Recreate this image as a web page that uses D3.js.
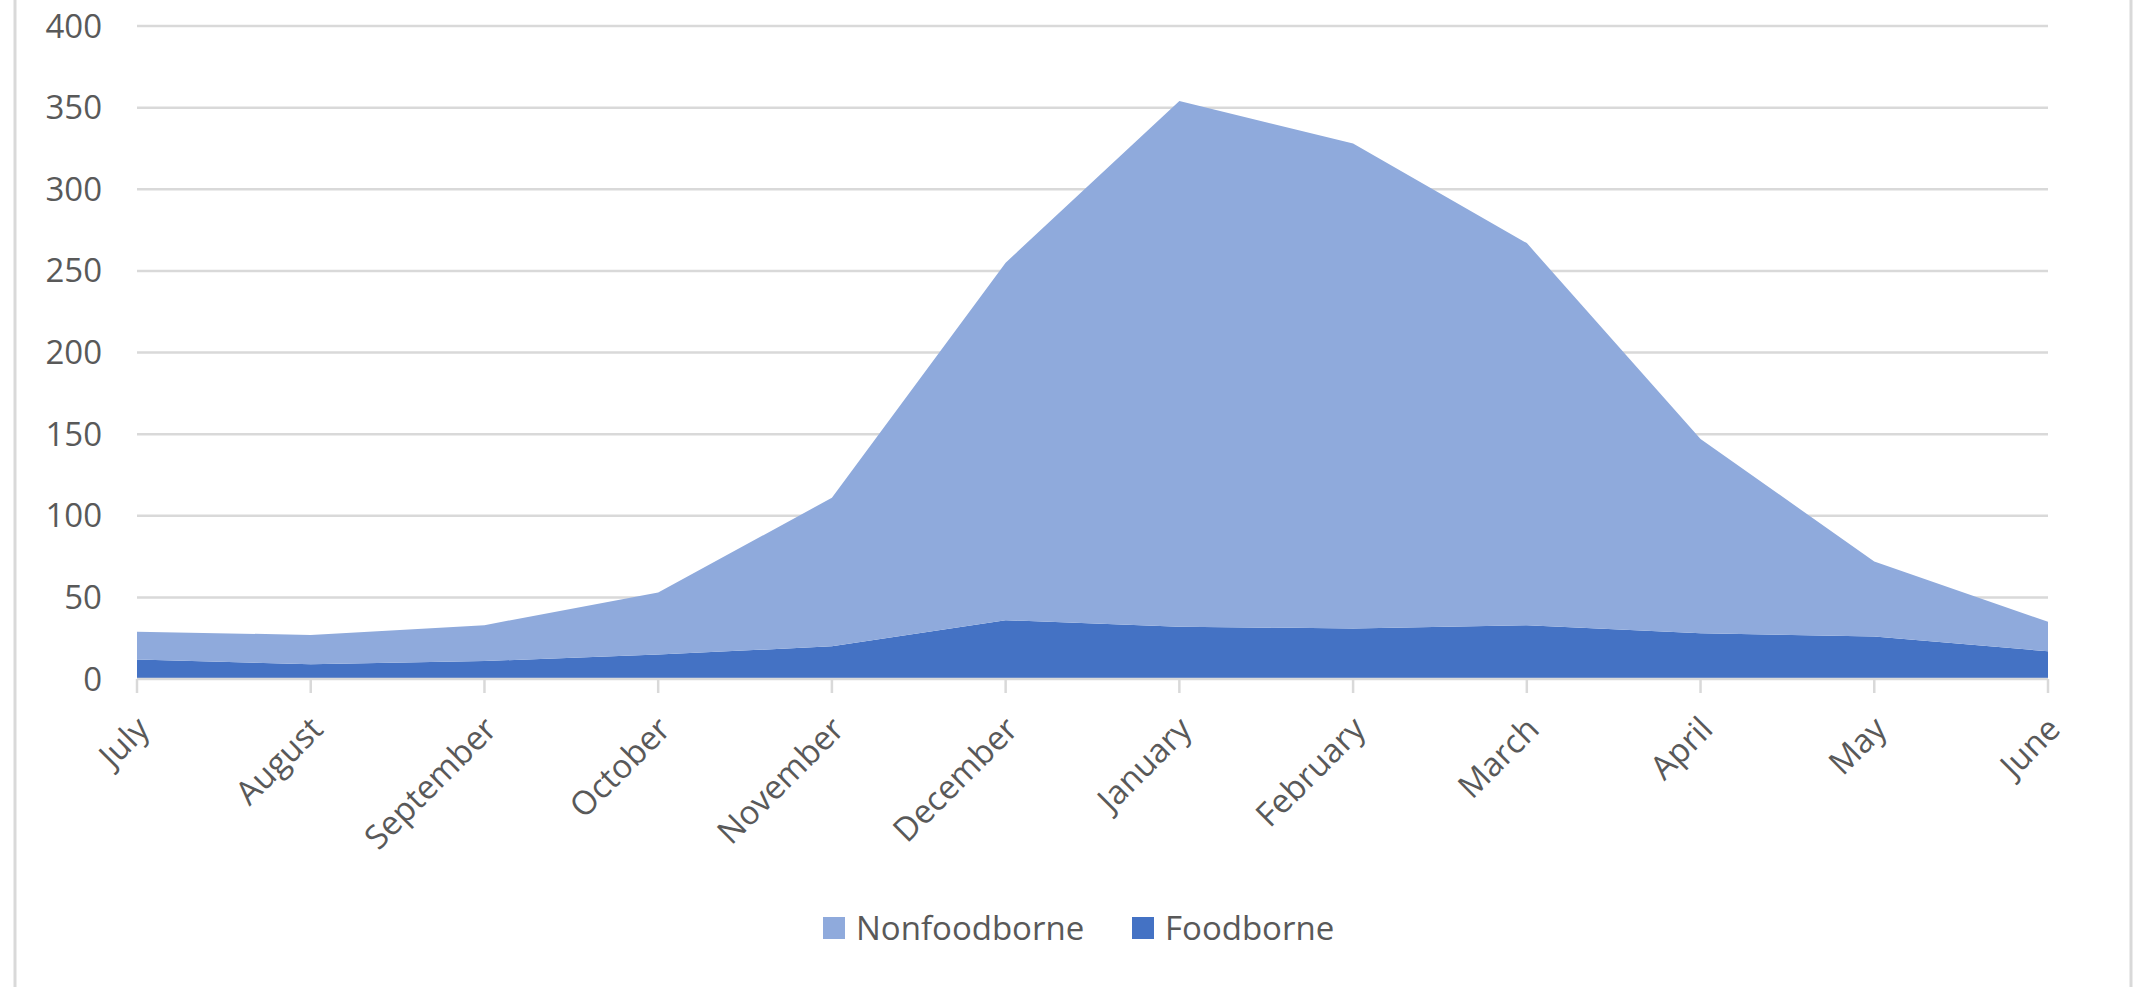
<!DOCTYPE html>
<html>
<head>
<meta charset="utf-8">
<script src="https://cdn.jsdelivr.net/npm/d3@7"></script>
<style>
  html, body { margin: 0; padding: 0; background: #fff; overflow: hidden; }
  svg { display: block; }
  text { font-family: "Open Sans", "Noto Sans", sans-serif; fill: #595959; }
</style>
</head>
<body>
<div id="chart"></div>
<script>
// months on the x axis
const months = ['July', 'August', 'September', 'October', 'November', 'December',
  'January', 'February', 'March', 'April', 'May', 'June'];
// series values (stacked: Foodborne at the bottom)
const foodborne = [12, 9, 11, 15, 20, 36, 32, 31, 33, 28, 26, 17];
const nonfoodborne = [17, 18, 22, 38, 91, 219, 322, 297, 234, 119, 46, 18];
const yTicks = [0, 50, 100, 150, 200, 250, 300, 350, 400];
const seriesNames = ['Nonfoodborne', 'Foodborne'];

const width = 2136;
const height = 987;
const margin = {top: 26, right: 88, bottom: 308, left: 137};
const innerWidth = width - margin.left - margin.right;
const innerHeight = height - margin.top - margin.bottom;
const colors = {Foodborne: '#4472c4', Nonfoodborne: '#8faadc'};

const svg = d3.select('#chart').append('svg')
  .attr('width', width)
  .attr('height', height);

// chart frame (only the side edges are visible)
svg.selectAll('line.frame')
  .data([15, 2131])
  .join('line')
  .attr('class', 'frame')
  .attr('x1', d => d).attr('x2', d => d)
  .attr('y1', 0).attr('y2', height)
  .attr('stroke', '#d9d9d9')
  .attr('stroke-width', 3);

const g = svg.append('g')
  .attr('transform', `translate(${margin.left},${margin.top})`);

const x = d3.scalePoint()
  .domain(months)
  .range([0, innerWidth]);

const y = d3.scaleLinear()
  .domain([0, 400])
  .range([innerHeight, 0]);

// gridlines
g.append('g')
  .selectAll('line')
  .data(yTicks.filter(d => d > 0))
  .join('line')
  .attr('x1', 0).attr('x2', innerWidth)
  .attr('y1', d => y(d)).attr('y2', d => y(d))
  .attr('stroke', '#d9d9d9')
  .attr('stroke-width', 2.5);

// stacked areas
const rows = months.map((m, i) => ({month: m, Foodborne: foodborne[i], Nonfoodborne: nonfoodborne[i]}));
const stack = d3.stack().keys(['Foodborne', 'Nonfoodborne']);
const layers = stack(rows);

const area = d3.area()
  .x(d => x(d.data.month))
  .y0(d => y(d[0]))
  .y1(d => y(d[1]));

g.selectAll('path.layer')
  .data(layers)
  .join('path')
  .attr('class', 'layer')
  .attr('fill', d => colors[d.key])
  .attr('d', area);

// y axis labels
g.append('g')
  .selectAll('text')
  .data(yTicks)
  .join('text')
  .attr('x', -35)
  .attr('y', d => y(d))
  .attr('dy', '0.35em')
  .attr('text-anchor', 'end')
  .attr('font-size', 33)
  .text(d => d);

// x axis line and ticks
const xAxis = g.append('g').attr('transform', `translate(0,${innerHeight})`);
xAxis.append('line')
  .attr('x1', 0).attr('x2', innerWidth)
  .attr('stroke', '#d9d9d9')
  .attr('stroke-width', 2.5);
xAxis.selectAll('line.tick')
  .data(months)
  .join('line')
  .attr('class', 'tick')
  .attr('x1', d => x(d)).attr('x2', d => x(d))
  .attr('y1', 0).attr('y2', 14)
  .attr('stroke', '#d9d9d9')
  .attr('stroke-width', 2.5);
xAxis.selectAll('text')
  .data(months)
  .join('text')
  .attr('transform', d => `translate(${x(d) + 6},${44}) rotate(-45)`)
  .attr('text-anchor', 'end')
  .attr('dy', '0.35em')
  .attr('font-size', 33)
  .text(d => d);

// legend
const legend = svg.append('g').attr('transform', 'translate(823,928)');
const legendX = [0, 309];
seriesNames.forEach((name, i) => {
  const item = legend.append('g').attr('transform', `translate(${legendX[i]},0)`);
  item.append('rect')
    .attr('x', 0).attr('y', -11)
    .attr('width', 22).attr('height', 22)
    .attr('fill', colors[name]);
  item.append('text')
    .attr('x', 33)
    .attr('dy', '0.35em')
    .attr('font-size', 33)
    .text(name);
});
</script>
</body>
</html>
